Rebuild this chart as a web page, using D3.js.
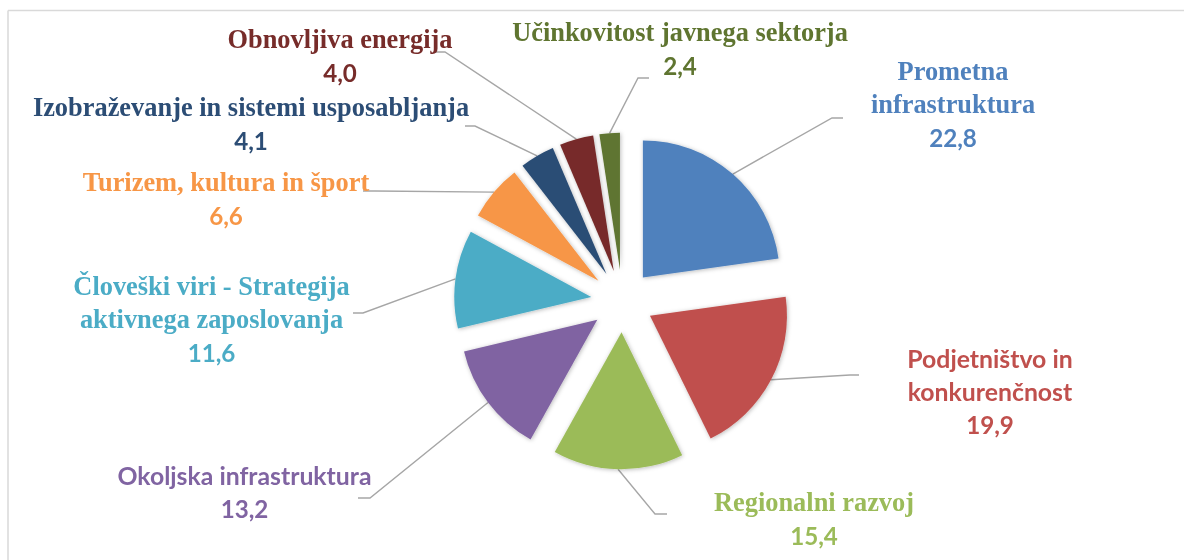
<!DOCTYPE html>
<html>
<head>
<meta charset="utf-8">
<script src="https://cdn.jsdelivr.net/npm/d3@7"></script>
<style>
  html, body { margin: 0; padding: 0; background: #ffffff; }
  svg { display: block; }
</style>
</head>
<body>
<svg id="chart" width="1184" height="560"></svg>
<script>
// ---- Data ----
const categories = [
  "Prometna\ninfrastruktura",
  "Podjetništvo in\nkonkurenčnost",
  "Regionalni razvoj",
  "Okoljska infrastruktura",
  "Človeški viri - Strategija\naktivnega zaposlovanja",
  "Turizem, kultura in šport",
  "Izobraževanje in sistemi usposabljanja",
  "Obnovljiva energija",
  "Učinkovitost javnega sektorja"
];
const values = [22.8, 19.9, 15.4, 13.2, 11.6, 6.6, 4.1, 4.0, 2.4];
const colors = ["#4F81BD", "#C0504D", "#9BBB59", "#8064A2", "#4BACC6", "#F79646", "#2C4D75", "#772C2A", "#5F7530"];

// ---- Layout (label anchors, leader elbows) ----
const labelLayout = [
  { x: 953,   y: 71,  elbow: [832, 118], end: [843, 118], font: "serif" },
  { x: 990,   y: 358, elbow: [850, 375], end: [859, 375], font: "sans" },
  { x: 814,   y: 502, elbow: [655, 514], end: [667, 514], font: "serif" },
  { x: 244.5, y: 475, elbow: [370, 498], end: [358, 498], font: "sans" },
  { x: 211.5, y: 286, elbow: [363, 313], end: [353, 313], font: "serif" },
  { x: 226,   y: 182, elbow: [375, 191], end: [363, 191], font: "serif" },
  { x: 251,   y: 107, elbow: [475, 126], end: [465, 126], font: "serif" },
  { x: 340,   y: 39,  elbow: [445, 52],  end: [435, 52],  font: "serif" },
  { x: 680,   y: 32,  elbow: [638, 78],  end: [649, 78],  font: "serif" }
];

const W = 1184, H = 560;
const cx = 622.3, cy = 301;
const radius = 137, explode = 31.3;
const lineH = 33;

const locale = d3.formatLocale({ decimal: ",", thousands: ".", grouping: [3], currency: ["", " €"] });
const fmt = locale.format(".1f");

const svg = d3.select("#chart");

// shadow filter
const defs = svg.append("defs");
const f = defs.append("filter").attr("id", "shadow").attr("x", "-20%").attr("y", "-20%").attr("width", "140%").attr("height", "140%");
f.append("feDropShadow").attr("dx", 0.8).attr("dy", 0.8).attr("stdDeviation", 2.2)
  .attr("flood-color", "#000").attr("flood-opacity", 0.28);

// frame (top and left border)
svg.append("line").attr("x1", 8).attr("y1", 10.5).attr("x2", W).attr("y2", 10.5)
  .attr("stroke", "#D9D9D9").attr("stroke-width", 1.5);
svg.append("line").attr("x1", 8).attr("y1", 10.5).attr("x2", 8).attr("y2", H)
  .attr("stroke", "#D9D9D9").attr("stroke-width", 1.5);

const data = categories.map((c, i) => ({ name: c, value: values[i], color: colors[i], layout: labelLayout[i] }));

const pie = d3.pie().sort(null).value(d => d.value).startAngle(0).endAngle(2 * Math.PI);
const arc = d3.arc().innerRadius(0).outerRadius(radius);
const arcs = pie(data);

const mid = a => (a.startAngle + a.endAngle) / 2;
const dir = a => [Math.sin(mid(a)), -Math.cos(mid(a))];

// leader lines
const leaders = svg.append("g").attr("class", "leaders");
arcs.forEach(a => {
  const [dx, dy] = dir(a);
  const start = [cx + dx * (explode + radius), cy + dy * (explode + radius)];
  const L = a.data.layout;
  leaders.append("path")
    .attr("d", d3.line()([start, L.elbow, L.end]))
    .attr("fill", "none")
    .attr("stroke", "#A6A6A6")
    .attr("stroke-width", 1.4);
});

// slices
const slices = svg.append("g").attr("class", "slices").attr("filter", "url(#shadow)");
slices.selectAll("path").data(arcs).join("path")
  .attr("d", arc)
  .attr("transform", a => {
    const [dx, dy] = dir(a);
    return `translate(${cx + dx * explode},${cy + dy * explode})`;
  })
  .attr("fill", a => a.data.color);

// labels
const serifFont = "'Liberation Serif', 'Times New Roman', serif";
const sansFont = "Lato, 'Open Sans', sans-serif";
const labels = svg.append("g").attr("class", "labels");
arcs.forEach(a => {
  const L = a.data.layout;
  const lines = a.data.name.split("\n");
  const g = labels.append("g");
  lines.forEach((ln, j) => {
    g.append("text")
      .attr("x", L.x).attr("y", L.y + j * lineH)
      .attr("text-anchor", "middle")
      .attr("dominant-baseline", "central")
      .attr("font-family", L.font === "serif" ? serifFont : sansFont)
      .attr("font-size", L.font === "serif" ? 26.4 : 24.8)
      .attr("font-weight", "bold")
      .attr("fill", a.data.color)
      .text(ln);
  });
  g.append("text")
    .attr("x", L.x).attr("y", L.y + lines.length * lineH)
    .attr("text-anchor", "middle")
    .attr("dominant-baseline", "central")
    .attr("font-family", sansFont)
    .attr("font-size", 24.2)
    .attr("font-weight", "bold")
    .attr("fill", a.data.color)
    .text(fmt(a.data.value));
});
</script>
</body>
</html>
